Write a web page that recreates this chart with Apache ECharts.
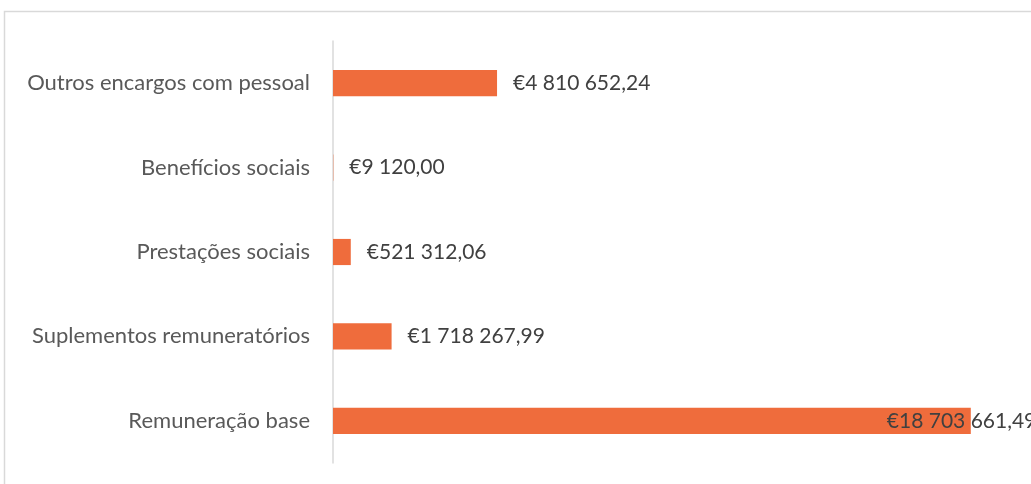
<!DOCTYPE html>
<html><head><meta charset="utf-8">
<script src="https://cdn.jsdelivr.net/npm/echarts@6/dist/echarts.min.js"></script>
<style>html,body{margin:0;padding:0;background:#fff}#c{width:1031px;height:484px}</style>
</head><body><div id="c"></div>
<script>
const categories = ['Remuneração base','Suplementos remuneratórios','Prestações sociais','Benefícios sociais','Outros encargos com pessoal'];
const values = [18703661.49, 1718267.99, 521312.06, 9120.00, 4810652.24];

function fmt(v){
  const parts = v.toFixed(2).split('.');
  const intPart = parts[0].replace(/\B(?=(\d{3})+(?!\d))/g, ' ');
  return '€' + intPart + ',' + parts[1];
}
const FONT = 'Lato';
const chart = echarts.init(document.getElementById('c'));
chart.setOption({
  animation:false,
  graphic:[{type:'rect',shape:{x:4.5,y:11.5,width:1100,height:600},style:{fill:'none',stroke:'#d9d9d9',lineWidth:1.5},silent:true,z:-1}],
  grid:{left:333,right:16,top:41,bottom:21,containLabel:false},
  xAxis:{type:'value',min:0,max:20000000,show:false},
  yAxis:{type:'category',data:categories,
    axisLine:{show:true,lineStyle:{color:'#d9d9d9',width:1.5}},
    axisTick:{show:false},
    axisLabel:{color:'#595959',fontFamily:FONT,fontSize:22,margin:23}},
  series:[{type:'bar',data:values.map((v,i)=>{
      const d={value:v};
      if(i===0) d.label={offset:[-100,0]};
      return d;}),
    barCategoryGap:'69%',
    itemStyle:{color:'#ef6c3c'},
    label:{show:true,position:'right',distance:16,color:'#404040',fontFamily:FONT,fontSize:21,
      formatter:p=>fmt(p.value)}
  }]
});
</script></body></html>
